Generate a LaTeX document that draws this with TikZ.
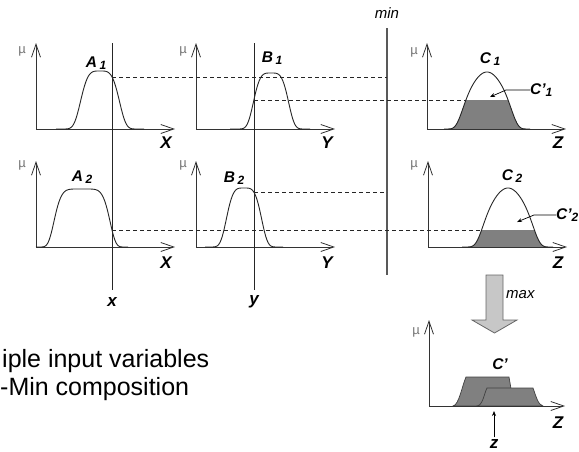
\documentclass[tikz,border=0pt]{standalone}
\usepackage{fontspec}
\setmainfont{Liberation Sans}
\usetikzlibrary{positioning,arrows.meta}

\newcommand{\subidx}[1]{\raisebox{-1.5pt}{\fontsize{12}{12}\selectfont #1}}

\begin{document}
\begin{tikzpicture}[
  x=1pt, y=-1pt,
  >=Stealth,
  declare function={vv(\xv,\cv,\sv)=((\xv-\cv)/\sv)*((\xv-\cv)/\sv);
    bellq(\xv,\cv,\sv)=exp(-vv(\xv,\cv,\sv)*vv(\xv,\cv,\sv));
    bells(\xv,\cv,\sv)=exp(-vv(\xv,\cv,\sv)*vv(\xv,\cv,\sv)*vv(\xv,\cv,\sv));
    bellc(\xv,\cv,\sv)=exp(-vv(\xv,\cv,\sv)-vv(\xv,\cv,\sv)*vv(\xv,\cv,\sv)*vv(\xv,\cv,\sv));},
  axisframe/.style={{Straight Barb[length=13pt,width=9pt]}-{Straight Barb[length=13pt,width=9pt]}, line width=0.8pt, draw=black!80},
  mfcurve/.style={line width=0.9pt, draw=black!85},
  cutline/.style={dash pattern=on 4pt off 3pt, line width=0.8pt, draw=black!85},
  cutfill/.style={fill=black!50, draw=black!75, line width=0.7pt},
  inputline/.style={line width=0.8pt, draw=black!85},
  minline/.style={line width=1.1pt, draw=black!65},
  leader/.style={->, >={Stealth[length=5pt,width=4pt]}, line width=0.7pt},
  maxarrow/.style={fill=black!22, draw=black!60, line width=0.8pt},
  setlabel/.style={font=\fontsize{15.5}{18}\selectfont\bfseries\itshape, inner sep=0pt},
  varlabel/.style={font=\fontsize{17}{20}\selectfont\bfseries\itshape, inner sep=0pt},
  oplabel/.style={font=\fontsize{15}{18}\selectfont\itshape, inner sep=0pt},
  mulabel/.style={font=\fontsize{13}{15}\selectfont, text=black!55, inner sep=0pt},
  slidetext/.style={font=\fontsize{25}{30}\selectfont, anchor=base west, inner sep=0pt}
]
  \useasboundingbox (0,0) rectangle (579,451);

  % clipped outputs C'1 and C'2
  \begin{scope}
    \clip (420,100) rectangle (570,129);
    \fill[fill=black!50] (448,129) -- plot[domain=448:526, samples=60] (\x,{129-57*bellc(\x,487,29)}) -- cycle;
  \end{scope}
  \begin{scope}
    \clip (420,230) rectangle (570,247);
    \fill[fill=black!50] (468,247) -- plot[domain=468:548, samples=60] (\x,{247-59*bellc(\x,508,30)}) -- cycle;
  \end{scope}

  % aggregated output C'
  \filldraw[cutfill] (453,406) .. controls (459,405) and (462,386) .. (466,377) -- (509,377) -- (514,406) -- cycle;
  \filldraw[cutfill] (477,406) .. controls (483,405) and (484,394) .. (487,388) -- (533,388) .. controls (536,396) and (538,405) .. (543,406) -- cycle;

  % axes
  \foreach \ax/\bs in {36/129, 196/129, 427/129, 36/247, 196/247, 428/247}
    \draw[axisframe] (\ax,\bs-86) -- (\ax,\bs) -- (\ax+139,\bs);
  \draw[axisframe] (429,320) -- (429,406) -- (565,406);

  % membership functions
  \draw[mfcurve] (56,129) -- plot[domain=64:136, samples=60] (\x,{129-58*bellq(\x,100,21)}) -- (144,129);
  \draw[mfcurve] (230,129) -- plot[domain=238:304, samples=60] (\x,{129-56*bellq(\x,271,19)}) -- (310,129);
  \draw[mfcurve] (444,129) -- plot[domain=448:526, samples=60] (\x,{129-57*bellc(\x,487,29)}) -- (530,129);
  \draw[mfcurve] (36,247) -- plot[domain=41:123, samples=60] (\x,{247-58*bells(\x,82,29)}) -- (128,247);
  \draw[mfcurve] (205,247) -- plot[domain=211:277, samples=60] (\x,{247-59*bellq(\x,244,19)}) -- (283,247);
  \draw[mfcurve] (462,247) -- plot[domain=468:548, samples=60] (\x,{247-59*bellc(\x,508,30)}) -- (553,247);

  % crisp inputs and min
  \draw[inputline] (112,43) -- (112,290);
  \draw[inputline] (254,43) -- (254,290);
  \draw[minline] (387,28) -- (387,275);
  \draw[cutline] (112,77) -- (387,77);
  \draw[cutline] (254,100) -- (466,100);
  \draw[cutline] (254,192) -- (387,192);
  \draw[cutline] (112,230) -- (482,230);

  % labels
  \foreach \i/\mx/\my in {1/22/51, 2/183/51, 3/414/52, 4/22/165, 5/183/165, 6/414/165, 7/416/332}
    \node[mulabel] (mu\i) at (\mx,\my) {µ};
  \node[setlabel] (lblA1) at (96,63) {A\,\subidx{1}};
  \node[setlabel] (lblB1) at (272,58) {B\,\subidx{1}};
  \node[setlabel] (lblC1) at (490,59) {C\,\subidx{1}};
  \node[setlabel] (lblA2) at (82,177) {A\,\subidx{2}};
  \node[setlabel] (lblB2) at (234,178) {B\,\subidx{2}};
  \node[setlabel] (lblC2) at (512,176) {C\,\subidx{2}};
  \node[setlabel, anchor=west] (lblCp1) at (530,90) {C'\subidx{1}};
  \node[setlabel, anchor=west] (lblCp2) at (556,215) {C'\subidx{2}};
  \node[setlabel] (lblCp) at (500,364) {C'};
  \coordinate (tipCp1) at (490,97);
  \coordinate (tipCp2) at (517,222);
  \draw[leader] (lblCp1.west) -- ++(-24,0) -- (tipCp1);
  \draw[leader] (lblCp2.west) -- ++(-22,0) -- (tipCp2);

  \node[varlabel] (axX1) at (166,143) {X};
  \node[varlabel] (axY1) at (327,143) {Y};
  \node[varlabel] (axZ1) at (558,143) {Z};
  \node[varlabel] (axX2) at (166,263) {X};
  \node[varlabel] (axY2) at (327,263) {Y};
  \node[varlabel] (axZ2) at (558,263) {Z};
  \node[varlabel] (axZ3) at (558,423) {Z};
  \node[varlabel] (inx) at (112,302) {x};
  \node[varlabel] (iny) at (254,302) {y};
  \node[varlabel] (outz) at (494,444) {z};
  \coordinate (zmark) at (494,411);
  \draw[leader] (outz.north) ++(0,-2) -- (zmark);

  \node[oplabel] (minlbl) at (387,13) {min};
  \draw[maxarrow] (486,275) -- (503,275) -- (503,320) -- (517,320) -- (494.5,333) -- (472,320) -- (486,320) -- cycle;
  \node[oplabel, anchor=west] (maxlbl) at (506,295) {max};

  \node[slidetext] (slide1) at (2,367) {iple input variables};
  \node[slidetext] (slide2) at (0,395) {-Min composition};
\end{tikzpicture}
\end{document}
